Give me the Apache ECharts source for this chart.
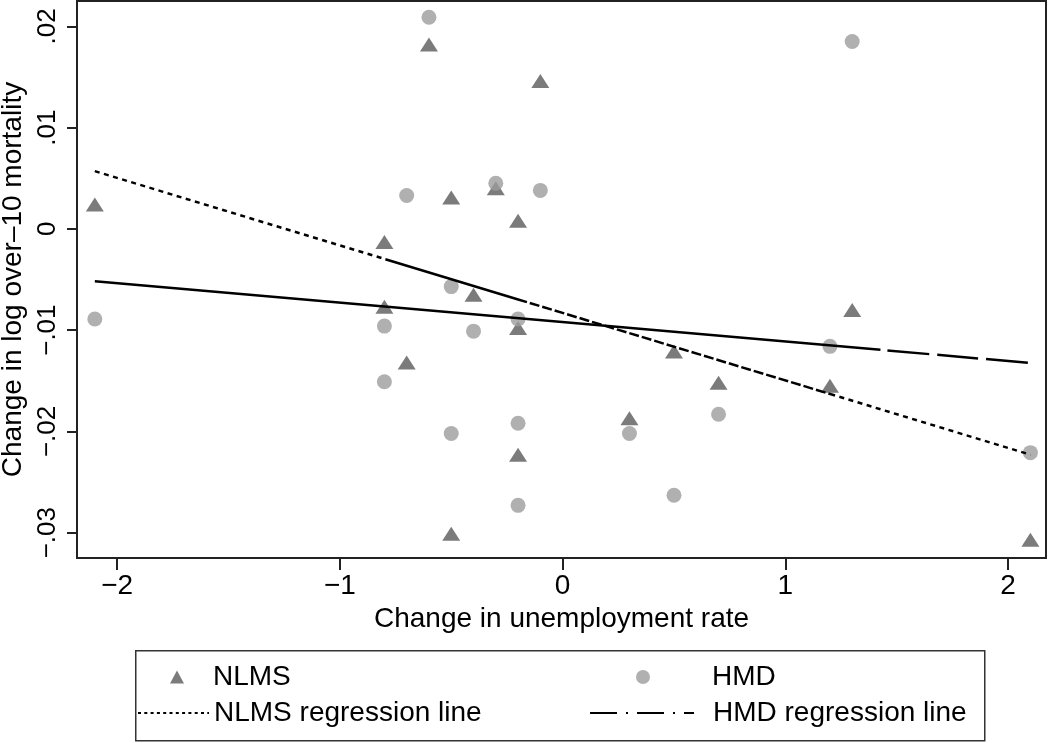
<!DOCTYPE html>
<html>
<head>
<meta charset="utf-8">
<script src="https://cdn.jsdelivr.net/npm/echarts@6/dist/echarts.min.js"></script>
<style>
html,body{margin:0;padding:0;background:#fff;}
#chart{width:1050px;height:743px;}
</style>
</head>
<body>
<div id="chart"></div>
<script>
// ---- Data ----
const nlmsX = [-2.1, -0.6, -0.1, -0.5, -0.3, -0.2, -0.8, -0.4, -0.8, -0.2, -0.7, 0.5, 0.3, -0.2, -0.5, 1.3, 0.7, 1.2, 2.1];
const nlmsY = [0.0024, 0.0182, 0.0146, 0.0031, 0.0040, 0.0008, -0.0013, -0.0065, -0.0077, -0.0098, -0.0132, -0.0121, -0.0187, -0.0223, -0.0301, -0.0080, -0.0152, -0.0155, -0.0307];
const hmdX = [-2.1, -0.6, -0.7, -0.3, -0.1, -0.5, -0.8, -0.4, -0.2, -0.8, -0.2, 0.3, -0.5, 0.5, -0.2, 1.3, 1.2, 0.7, 2.1];
const hmdY = [-0.0089, 0.0209, 0.0033, 0.0045, 0.0038, -0.0057, -0.0096, -0.0101, -0.0089, -0.0151, -0.0192, -0.0202, -0.0202, -0.0263, -0.0273, 0.0185, -0.0116, -0.0183, -0.0221];
const nlmsFitX = [-2.1, 2.1];
const nlmsFitY = [0.0057, -0.0223];
const hmdFitX = [-2.1, 2.1];
const hmdFitY = [-0.00518, -0.01324];
const xTicks = [-2, -1, 0, 1, 2];
const xTickLabels = ['\u22122', '\u22121', '0', '1', '2'];
const yTicks = [-0.03, -0.02, -0.01, 0, 0.01, 0.02];
const yTickLabels = ['\u2212.03', '\u2212.02', '\u2212.01', '0', '.01', '.02'];
const seriesNames = ['NLMS', 'HMD', 'NLMS regression line', 'HMD regression line'];
const xTitle = 'Change in unemployment rate';
const yTitle = 'Change in log over\u201310 mortality';

// ---- Styles ----
const FONT = "'Liberation Sans', Arial, Helvetica, sans-serif";
const pairs = (xs, ys) => xs.map((x, i) => [x, ys[i]]);
function labelFor(ticks, labels) {
  return v => {
    for (let i = 0; i < ticks.length; i++) if (Math.abs(ticks[i] - v) < 1e-9) return labels[i];
    return '';
  };
}
// dash pattern built from path-length segments (style only)
function dashPattern(segs) {
  const arr = [];
  segs.forEach(s => {
    if (!s.gap) { arr.push(s.len, 0); return; }
    let rem = s.len;
    while (rem > 0.01) {
      const d = Math.min(s.dash, rem); arr.push(d); rem -= d;
      const g = Math.min(s.gap, rem); arr.push(g); rem -= g;
    }
  });
  return arr;
}
const nlmsDash = dashPattern([
  {len: 303.6, dash: 5, gap: 4.5},
  {len: 137.9, dash: 0, gap: 0},
  {len: 327, dash: 10, gap: 3},
  {len: 215, dash: 5, gap: 4.5}
]);
const hmdDash = [788.6, 7, 42, 8, 41, 8, 42, 60];

const legendText = (pad) => ({fontSize: 28, fontFamily: FONT, color: '#000', lineHeight: 30, padding: [0, 0, 0, pad]});

const chart = echarts.init(document.getElementById('chart'), null, {renderer: 'canvas'});
const option = {
  backgroundColor: '#ffffff',
  animation: false,
  textStyle: {fontFamily: FONT, color: '#000'},
  grid: {left: 77, top: 1, right: 4, bottom: 185, containLabel: false, outerBoundsMode: 'none',
         show: true, borderColor: '#222', borderWidth: 2, backgroundColor: 'transparent'},
  xAxis: {
    type: 'value', min: -2.18, max: 2.17,
    name: xTitle, nameLocation: 'middle', nameGap: 38,
    nameTextStyle: {fontSize: 28, fontFamily: FONT, color: '#000'},
    axisLine: {show: true, onZero: false, lineStyle: {color: '#222', width: 2}},
    axisTick: {show: true, length: 12, customValues: xTicks, lineStyle: {color: '#222', width: 2}},
    axisLabel: {customValues: xTicks, formatter: labelFor(xTicks, xTickLabels), fontSize: 28, fontFamily: FONT, color: '#000', margin: 14},
    splitLine: {show: false}
  },
  yAxis: {
    type: 'value', min: -0.0325, max: 0.0225,
    name: yTitle, nameLocation: 'middle', nameGap: 44, nameRotate: 90,
    nameTextStyle: {fontSize: 28, fontFamily: FONT, color: '#000'},
    axisLine: {show: true, onZero: false, lineStyle: {color: '#222', width: 2}},
    axisTick: {show: true, length: 10, customValues: yTicks, lineStyle: {color: '#222', width: 2}},
    axisLabel: {customValues: yTicks, formatter: labelFor(yTicks, yTickLabels), rotate: 90, fontSize: 26, fontFamily: FONT, color: '#000', margin: 16},
    splitLine: {show: false}
  },
  legend: [
    {data: [seriesNames[0]], left: 170, top: 662, padding: 0, itemWidth: 14, itemHeight: 13,
     textStyle: legendText(24)},
    {data: [seriesNames[1]], left: 636, top: 662, padding: 0, itemWidth: 14, itemHeight: 14,
     textStyle: legendText(57)},
    {data: [seriesNames[2]], left: 137, top: 698, padding: 0, itemWidth: 71, itemHeight: 14,
     itemStyle: {opacity: 0},
     lineStyle: {type: [3, 3.3], width: 2, color: '#000'},
     textStyle: legendText(0)},
    {data: [seriesNames[3]], left: 589, top: 698, padding: 0, itemWidth: 104, itemHeight: 14,
     itemStyle: {opacity: 0},
     lineStyle: {type: [27, 9, 2, 9], width: 2, color: '#000'},
     textStyle: legendText(14)}
  ],
  graphic: [{
    type: 'rect', left: 135, top: 650, z: -1,
    shape: {width: 849, height: 90},
    style: {fill: 'transparent', stroke: '#333', lineWidth: 1.5}
  }],
  series: [
    {name: seriesNames[0], type: 'scatter', symbol: 'triangle', symbolSize: [18, 14],
     itemStyle: {color: '#5a5a5a'}, data: pairs(nlmsX, nlmsY), z: 2},
    {name: seriesNames[1], type: 'scatter', symbol: 'circle', symbolSize: 15,
     itemStyle: {color: '#9c9c9c'}, data: pairs(hmdX, hmdY), z: 3},
    {name: seriesNames[2], type: 'line', symbol: 'none', z: 4, itemStyle: {color: '#000'},
     lineStyle: {color: '#000', width: 2.5, type: nlmsDash, cap: 'butt'},
     data: pairs(nlmsFitX, nlmsFitY)},
    {name: seriesNames[3], type: 'line', symbol: 'none', z: 5, itemStyle: {color: '#000'},
     lineStyle: {color: '#000', width: 2.5, type: hmdDash, cap: 'butt'},
     data: pairs(hmdFitX, hmdFitY)}
  ]
};
chart.setOption(option);
</script>
</body>
</html>
